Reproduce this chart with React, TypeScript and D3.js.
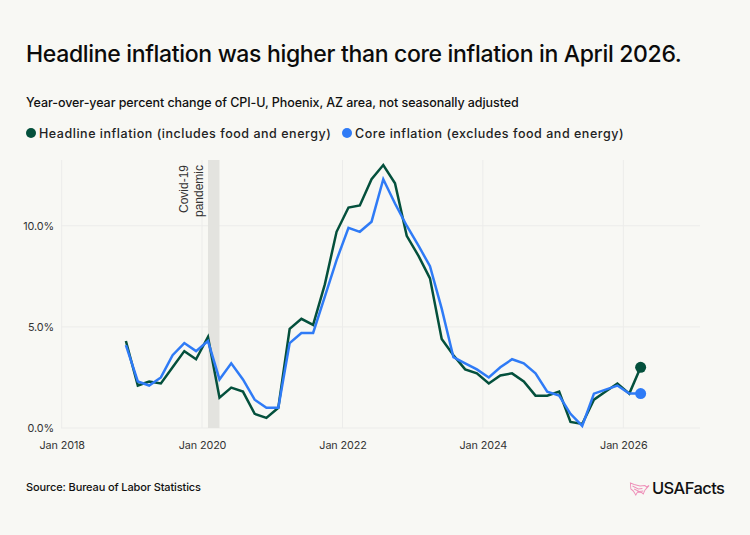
import { useEffect, useRef } from "react";
import * as d3 from "d3";

const months = [
  "2018-12",
  "2019-02", "2019-04", "2019-06", "2019-08", "2019-10", "2019-12",
  "2020-02", "2020-04", "2020-06", "2020-08", "2020-10", "2020-12",
  "2021-02", "2021-04", "2021-06", "2021-08", "2021-10", "2021-12",
  "2022-02", "2022-04", "2022-06", "2022-08", "2022-10", "2022-12",
  "2023-02", "2023-04", "2023-06", "2023-08", "2023-10", "2023-12",
  "2024-02", "2024-04", "2024-06", "2024-08", "2024-10", "2024-12",
  "2025-02", "2025-04", "2025-06", "2025-08", "2025-10", "2025-12",
  "2026-02", "2026-04",
];

const headline = [
  4.3, 2.1, 2.3, 2.2, 3.0, 3.8, 3.4, 4.5, 1.5, 2.0, 1.8, 0.7, 0.5, 1.0, 4.9,
  5.4, 5.1, 7.1, 9.7, 10.9, 11.0, 12.3, 13.0, 12.1, 9.5, 8.5, 7.4, 4.4, 3.6,
  2.9, 2.7, 2.2, 2.6, 2.7, 2.3, 1.6, 1.6, 1.8, 0.3, 0.2, 1.4, 1.8, 2.2, 1.7, 3.0,
];

const core = [
  4.1, 2.3, 2.1, 2.5, 3.6, 4.2, 3.8, 4.3, 2.4, 3.2, 2.4, 1.4, 1.0, 1.0, 4.2,
  4.7, 4.7, 6.5, 8.3, 9.9, 9.7, 10.2, 12.3, 11.1, 10.0, 9.0, 8.0, 5.9, 3.5,
  3.2, 2.9, 2.5, 3.0, 3.4, 3.2, 2.7, 1.8, 1.6, 0.7, 0.1, 1.7, 1.9, 2.1, 1.7, 1.7,
];

const yTicks = [0, 5, 10];
const xTickYears = [2018, 2020, 2022, 2024, 2026];
const covidRange = ["2020-02", "2020-04"];
const covidLabel = ["Covid-19", "pandemic"];

const parseMonth = d3.utcParse("%Y-%m");

const GREEN = "#04503c";
const BLUE = "#2f7bf6";
const BG = "#f8f8f4";
const GRID = "#ececea";
const SANS = "Inter, 'Liberation Sans', sans-serif";
const LABEL_FONT = "'Liberation Sans', Arial, sans-serif";

export default function App() {
  const svgRef = useRef<SVGSVGElement>(null);

  useEffect(() => {
    if (!svgRef.current) return;
    document.body.style.margin = "0";

    const svg = d3.select(svgRef.current);
    svg.selectAll("*").remove();

    svg.append("rect").attr("width", 750).attr("height", 535).attr("fill", BG);

    // Heading
    svg.append("text")
      .attr("x", 26).attr("y", 62)
      .attr("font-family", SANS).attr("font-size", 23).attr("font-weight", 500)
      .attr("letter-spacing", "-0.33px").attr("fill", "#0b0b0b")
      .text("Headline inflation was higher than core inflation in April 2026.");

    svg.append("text")
      .attr("x", 26).attr("y", 107)
      .attr("font-family", SANS).attr("font-size", 12.5).attr("font-weight", 500)
      .attr("letter-spacing", "-0.07px").attr("fill", "#111")
      .text("Year-over-year percent change of CPI-U, Phoenix, AZ area, not seasonally adjusted");

    // Legend
    const legend = [
      { label: "Headline inflation (includes food and energy)", color: GREEN, cx: 31, tx: 39 },
      { label: "Core inflation (excludes food and energy)", color: BLUE, cx: 347, tx: 355 },
    ];
    legend.forEach((d) => {
      svg.append("circle").attr("cx", d.cx).attr("cy", 133).attr("r", 5).attr("fill", d.color);
      svg.append("text")
        .attr("x", d.tx).attr("y", 138)
        .attr("font-family", SANS).attr("font-size", 12.5).attr("font-weight", 500)
        .attr("letter-spacing", "0.53px").attr("fill", "#222")
        .text(d.label);
    });

    // Scales
    const x = d3.scaleUtc()
      .domain([new Date(Date.UTC(2018, 0, 1)), new Date(Date.UTC(2027, 0, 1))])
      .range([61.7, 693.5]);
    const y = d3.scaleLinear().domain([0, 13.25]).range([428, 160]);

    const plotLeft = 61;
    const plotRight = 700;

    // Grid
    const grid = svg.append("g");
    yTicks.forEach((t) => {
      grid.append("line")
        .attr("x1", plotLeft).attr("x2", plotRight)
        .attr("y1", y(t)).attr("y2", y(t))
        .attr("stroke", GRID);
    });
    xTickYears.forEach((yr) => {
      const px = x(new Date(Date.UTC(yr, 0, 1)));
      grid.append("line")
        .attr("x1", px).attr("x2", px)
        .attr("y1", 160).attr("y2", 428)
        .attr("stroke", GRID);
    });

    // Covid band
    const [covidStart, covidEnd] = covidRange.map((m) => x(parseMonth(m)!));
    svg.append("rect")
      .attr("x", covidStart).attr("y", 160)
      .attr("width", covidEnd - covidStart).attr("height", 268)
      .attr("fill", "#e3e3df");
    covidLabel.forEach((txt, i) => {
      svg.append("text")
        .attr("transform", `translate(${188 + i * 14.5},165) rotate(-90)`)
        .attr("text-anchor", "end")
        .attr("font-family", LABEL_FONT).attr("font-size", 12).attr("fill", "#333")
        .text(txt);
    });

    // Axes
    const xAxis = svg.append("g")
      .attr("transform", "translate(0,428)")
      .call(
        d3.axisBottom(x)
          .tickValues(xTickYears.map((yr) => new Date(Date.UTC(yr, 0, 1))))
          .tickSize(0)
          .tickPadding(13)
          .tickFormat((d) => d3.utcFormat("%b %Y")(d as Date))
      );
    const yAxis = svg.append("g")
      .attr("transform", "translate(61,0)")
      .call(
        d3.axisLeft(y)
          .tickValues(yTicks)
          .tickSize(0)
          .tickPadding(7)
          .tickFormat((d) => `${(d as number).toFixed(1)}%`)
      );
    [xAxis, yAxis].forEach((a) => {
      a.select(".domain").remove();
      a.selectAll("text")
        .attr("font-family", SANS)
        .attr("font-size", 10.8)
        .attr("letter-spacing", "-0.1px")
        .attr("fill", "#333");
    });

    // Lines
    const dates = months.map((m) => parseMonth(m)!);
    const line = d3.line<number>()
      .x((_, i) => x(dates[i]))
      .y((d) => y(d));

    [
      { values: headline, color: GREEN },
      { values: core, color: BLUE },
    ].forEach((s) => {
      svg.append("path")
        .datum(s.values)
        .attr("fill", "none")
        .attr("stroke", s.color)
        .attr("stroke-width", 2.5)
        .attr("stroke-linejoin", "miter")
        .attr("d", line);
      svg.append("circle")
        .attr("cx", x(dates[dates.length - 1]))
        .attr("cy", y(s.values[s.values.length - 1]))
        .attr("r", 5.5)
        .attr("fill", s.color);
    });

    // Source
    svg.append("text")
      .attr("x", 26).attr("y", 491)
      .attr("font-family", SANS).attr("font-size", 11).attr("font-weight", 500)
      .attr("letter-spacing", "-0.12px").attr("fill", "#111")
      .text("Source: Bureau of Labor Statistics");

    // Logo
    const logo = svg.append("g").attr("transform", "translate(630,482) scale(0.83,1)");
    logo.append("path")
      .attr("d", "M0.5,1 L5,2.5 L12,4 L18,3.5 L20,5 L23,3.5 L18,8 L16,12 L14,10.5 L9,10 L7,13 L4,9 L1,7 Z M3,4 L10,7 L15,6.5 M5,7 L11,9.5 L16,9")
      .attr("fill", "none")
      .attr("stroke", "#ee8fb8")
      .attr("stroke-width", 1.1);
    svg.append("text")
      .attr("x", 652).attr("y", 494)
      .attr("font-family", SANS).attr("font-size", 16.5).attr("font-weight", 500)
      .attr("letter-spacing", "-0.6px").attr("fill", "#111")
      .text("USAFacts");
  }, []);

  return (
    <svg
      ref={svgRef}
      width={750}
      height={535}
      style={{ position: "absolute", left: 0, top: 0, display: "block" }}
    />
  );
}
